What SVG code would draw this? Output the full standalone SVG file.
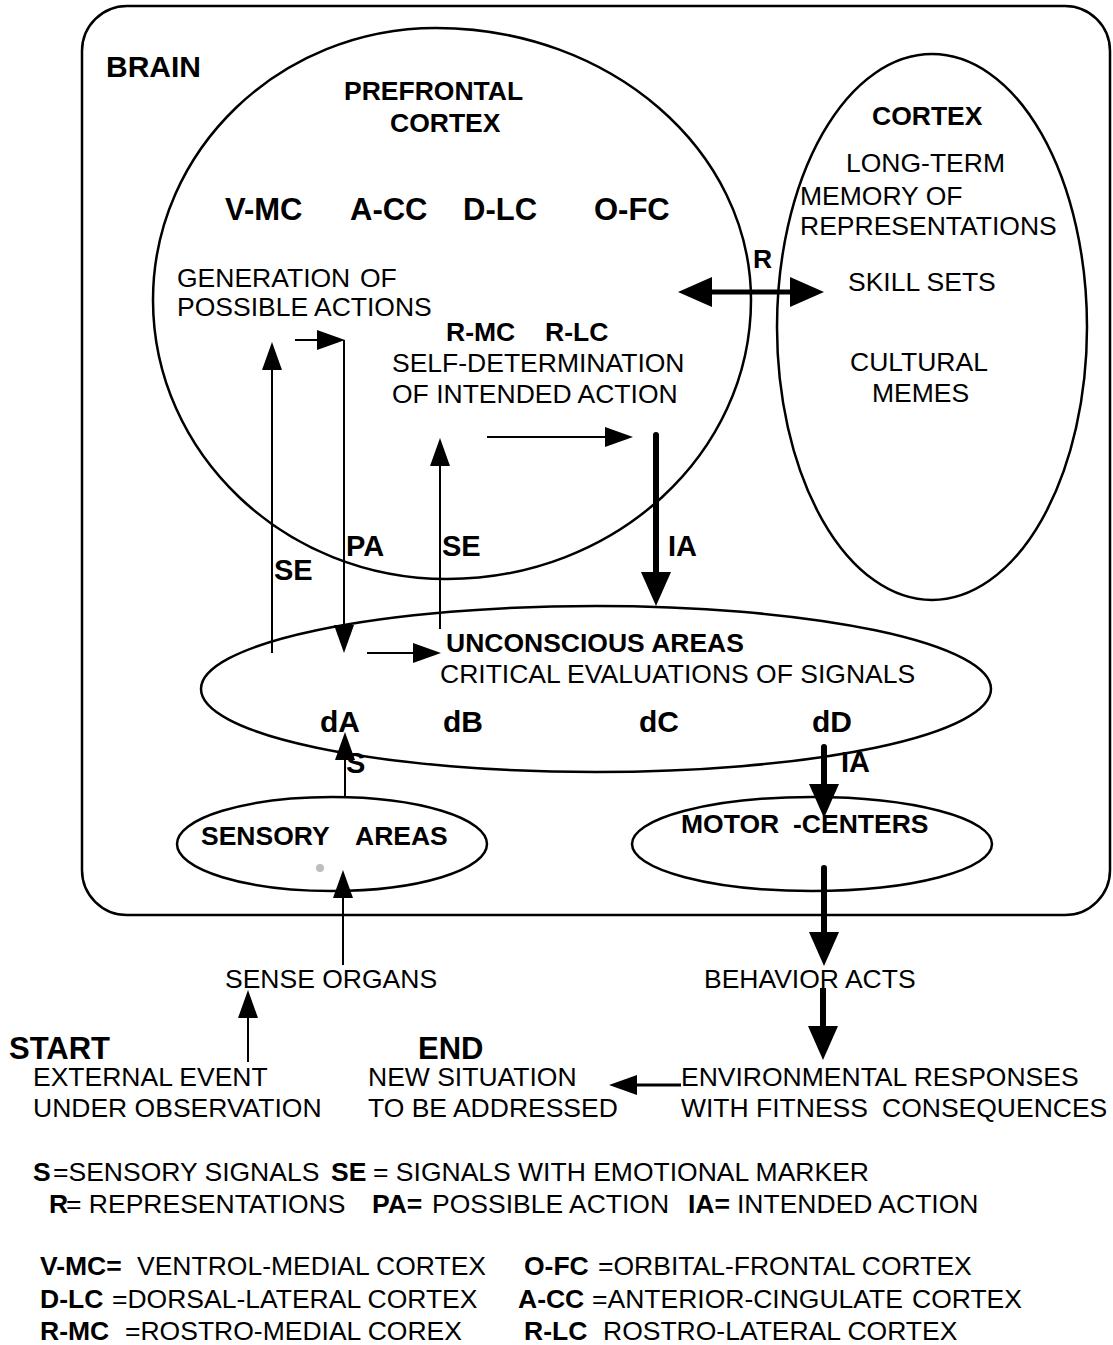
<svg xmlns="http://www.w3.org/2000/svg" width="1113" height="1345" viewBox="0 0 1113 1345">
  <style>
    text { font-family: "Liberation Sans", Arial, Helvetica, sans-serif; font-size: 26.5px; fill: #000; }
    .b { font-weight: bold; }
    .big { font-size: 30px; }
    .lbl { font-size: 29px; font-weight: bold; }
    .shape { fill: none; stroke: #000; stroke-width: 2.5; }
    .thin { fill: none; stroke: #000; stroke-width: 2; }
    .thick { fill: none; stroke: #000; stroke-width: 6; }
  </style>
  <defs>
    <marker id="ah" viewBox="0 0 28 20" refX="0" refY="10" markerWidth="28" markerHeight="20" markerUnits="userSpaceOnUse" orient="auto">
      <path d="M0,0 L28,10 L0,20 Z" fill="#000"/>
    </marker>
    <marker id="ahBig" viewBox="0 0 34 30" refX="0" refY="15" markerWidth="34" markerHeight="30" markerUnits="userSpaceOnUse" orient="auto-start-reverse">
      <path d="M0,0 L34,15 L0,30 Z" fill="#000"/>
    </marker>
  </defs>

  <rect width="1113" height="1345" fill="#fff"/>

  <!-- outer brain frame -->
  <g id="brain">
    <rect class="shape" x="82" y="6" width="1028" height="909" rx="45" ry="45"/>
    <text class="b big" x="106" y="77">BRAIN</text>
  </g>

  <g id="prefrontal">
    <path class="shape" d="M436,28 C610,28 751,150 751,300 C751,454 615,579 447,579 C285,579 153,454 153,300 C153,150 280,28 436,28 Z"/>
    <text class="b" x="344" y="100">PREFRONTAL</text>
    <text class="b" x="390" y="132">CORTEX</text>
    <text class="b" style="font-size:31px" x="225" y="220">V-MC</text>
    <text class="b" style="font-size:31px" x="350" y="220">A-CC</text>
    <text class="b" style="font-size:31px" x="463" y="220">D-LC</text>
    <text class="b" style="font-size:31px" x="594" y="220">O-FC</text>
    <text x="177" y="287">GENERATION<tspan x="360">OF</tspan></text>
    <text x="177" y="316">POSSIBLE ACTIONS</text>
    <text class="b" x="446" y="341">R-MC<tspan x="545">R-LC</tspan></text>
    <text x="392" y="372">SELF-DETERMINATION</text>
    <text x="392" y="403">OF INTENDED ACTION</text>
  </g>

  <g id="cortex">
    <ellipse class="shape" cx="932" cy="327" rx="155" ry="273"/>
    <text class="b" x="872" y="125">CORTEX</text>
    <text x="846" y="172">LONG-TERM</text>
    <text x="800" y="205">MEMORY OF</text>
    <text x="800" y="235">REPRESENTATIONS</text>
    <text x="848" y="291">SKILL SETS</text>
    <text x="850" y="371">CULTURAL</text>
    <text x="872" y="402">MEMES</text>
  </g>

  <g id="unconscious">
    <ellipse class="shape" cx="596" cy="689" rx="395" ry="83"/>
    <text class="b" x="446" y="652">UNCONSCIOUS AREAS</text>
    <text x="440" y="683">CRITICAL EVALUATIONS OF SIGNALS</text>
    <text class="b big" x="320" y="732">dA</text>
    <text class="b big" x="443" y="732">dB</text>
    <text class="b big" x="639" y="732">dC</text>
    <text class="b big" x="812" y="732">dD</text>
  </g>

  <g id="sensory">
    <ellipse class="shape" cx="332" cy="844" rx="155" ry="47"/>
    <text class="b" x="201" y="845">SENSORY<tspan x="355">AREAS</tspan></text>
    <circle cx="320" cy="868" r="4" fill="#bdbdbd"/>
  </g>

  <g id="motor">
    <ellipse class="shape" cx="812" cy="844" rx="180" ry="47"/>
    <text class="b" x="681" y="833">MOTOR<tspan x="793">-CENTERS</tspan></text>
  </g>

  <g id="sense-organs">
    <text x="225" y="988">SENSE ORGANS</text>
  </g>
  <g id="behavior-acts">
    <text x="704" y="988">BEHAVIOR ACTS</text>
  </g>
  <g id="start">
    <text class="b" style="font-size:31px" x="9" y="1059">START</text>
    <text x="33" y="1086">EXTERNAL EVENT</text>
    <text x="33" y="1117">UNDER OBSERVATION</text>
  </g>
  <g id="end">
    <text class="b" style="font-size:31px" x="418" y="1059">END</text>
    <text x="368" y="1086">NEW SITUATION</text>
    <text x="368" y="1117">TO BE ADDRESSED</text>
  </g>
  <g id="environment">
    <text x="681" y="1086">ENVIRONMENTAL RESPONSES</text>
    <text x="681" y="1117">WITH FITNESS<tspan x="882">CONSEQUENCES</tspan></text>
  </g>

  <!-- connectors and their labels -->
  <g id="connectors">
    <line class="thin" x1="272" y1="653" x2="272" y2="370" marker-end="url(#ah)"/>
    <line class="thin" x1="295" y1="340" x2="317" y2="340" marker-end="url(#ah)"/>
    <line class="thin" x1="344" y1="340" x2="344" y2="625" marker-end="url(#ah)"/>
    <line class="thin" x1="367" y1="653" x2="413" y2="653" marker-end="url(#ah)"/>
    <line class="thin" x1="440" y1="629" x2="440" y2="466" marker-end="url(#ah)"/>
    <line class="thin" x1="487" y1="437" x2="605" y2="437" marker-end="url(#ah)"/>
    <line class="thick" x1="656" y1="435" x2="656" y2="572" stroke-linecap="round" marker-end="url(#ahBig)"/>
    <line class="thick" style="stroke-width:5" x1="712" y1="292" x2="790" y2="292" marker-start="url(#ahBig)" marker-end="url(#ahBig)"/>
    <line class="thin" x1="345" y1="797" x2="345" y2="760" marker-end="url(#ah)"/>
    <line class="thick" x1="824" y1="747" x2="824" y2="784" stroke-linecap="round" marker-end="url(#ahBig)"/>
    <line class="thin" x1="343" y1="965" x2="343" y2="898" marker-end="url(#ah)"/>
    <line class="thick" x1="824" y1="868" x2="824" y2="932" stroke-linecap="round" marker-end="url(#ahBig)"/>
    <line class="thick" x1="823" y1="988" x2="823" y2="1026" marker-end="url(#ahBig)"/>
    <line class="thin" x1="248" y1="1062" x2="248" y2="1018" marker-end="url(#ah)"/>
    <line class="thin" style="stroke-width:3" x1="681" y1="1085" x2="637" y2="1085" marker-end="url(#ah)"/>

    <text class="b" x="753" y="268">R</text>
    <text class="lbl" x="274" y="580">SE</text>
    <text class="lbl" x="346" y="556">PA</text>
    <text class="lbl" x="442" y="556">SE</text>
    <text class="lbl" x="668" y="556">IA</text>
    <text class="lbl" x="346" y="773">S</text>
    <text class="lbl" x="841" y="772">IA</text>
  </g>

  <!-- abbreviation key -->
  <g id="legend">
    <text y="1181"><tspan class="b" x="33">S</tspan><tspan x="53">=SENSORY SIGNALS</tspan><tspan class="b" x="331">SE</tspan><tspan x="373">= SIGNALS WITH EMOTIONAL MARKER</tspan></text>
    <text y="1213"><tspan class="b" x="49">R</tspan><tspan x="66">= REPRESENTATIONS</tspan><tspan class="b" x="372">PA=</tspan><tspan x="432">POSSIBLE ACTION</tspan><tspan class="b" x="688">IA=</tspan><tspan x="737">INTENDED ACTION</tspan></text>
    <text y="1275"><tspan class="b" x="40">V-MC=</tspan><tspan x="137">VENTROL-MEDIAL CORTEX</tspan><tspan class="b" x="524">O-FC</tspan><tspan x="598">=ORBITAL-FRONTAL CORTEX</tspan></text>
    <text y="1308"><tspan class="b" x="40">D-LC</tspan><tspan x="112">=DORSAL-LATERAL CORTEX</tspan><tspan class="b" x="518">A-CC</tspan><tspan x="592">=ANTERIOR-CINGULATE</tspan><tspan x="912">CORTEX</tspan></text>
    <text y="1340"><tspan class="b" x="40">R-MC</tspan><tspan x="125">=ROSTRO-MEDIAL COREX</tspan><tspan class="b" x="524">R-LC</tspan><tspan x="603">ROSTRO-LATERAL CORTEX</tspan></text>
  </g>
</svg>
